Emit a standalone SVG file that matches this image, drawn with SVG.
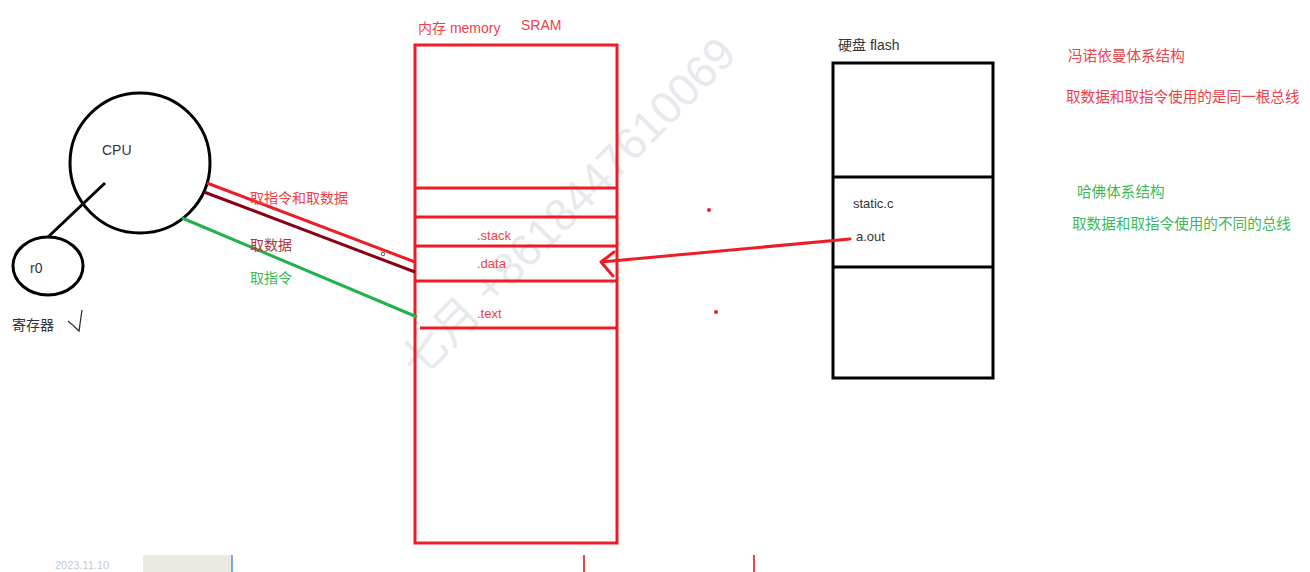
<svg xmlns="http://www.w3.org/2000/svg" width="1310" height="572" viewBox="0 0 1310 572">
<style>
text{font-family:"Liberation Sans","Noto Sans CJK SC",sans-serif;font-size:14px}
.blk{fill:none;stroke:#000;stroke-width:3}
.red{fill:none;stroke:#ee1d25;stroke-width:3}
.tr{fill:#f04048}
.tg{fill:#3cb85a}
.tk{fill:#333}
.wm{fill:#e6e9ee;font-size:45px}
.note{font-size:14.6px}
</style>
<rect width="1310" height="572" fill="#fff"/>
<text class="wm" transform="translate(420,380) rotate(-45.5)">七月 +8618447610069</text>
<g id="cpu">
<circle class="blk" cx="140" cy="163" r="70"/>
<text class="tk" x="102" y="155">CPU</text>
</g>
<g id="r0">
<ellipse class="blk" cx="48" cy="266" rx="35" ry="29"/>
<text class="tk" x="30" y="273">r0</text>
</g>
<g id="register-label">
<text class="tk" x="12" y="330">寄存器</text>
<path d="M68,321 Q74,326 79,331 L82,310" fill="none" stroke="#333" stroke-width="1.3"/>
</g>
<g id="memory">
<text class="tr" x="418" y="33">内存 memory</text>
<text class="tr" x="521" y="30">SRAM</text>
<rect class="red" x="415" y="45" width="202" height="498"/>
<path class="red" d="M415,188H617M415,217H617M415,246H617M415,281H617M420,328H617"/>
<text class="tr" x="477" y="240" style="font-size:13px">.stack</text>
<text class="tr" x="477" y="268" style="font-size:13px">.data</text>
<text class="tr" x="477" y="318" style="font-size:13px">.text</text>
</g>
<g id="flash">
<text class="tk" x="838" y="50">硬盘 flash</text>
<rect class="blk" x="833" y="63" width="160" height="315"/>
<path class="blk" d="M833,177H993M833,267H993"/>
<text class="tk" x="853" y="208" style="font-size:13px">static.c</text>
<text class="tk" x="856" y="241" style="font-size:13px">a.out</text>
</g>
<g id="notes">
<text class="tr note" x="1068" y="61">冯诺依曼体系结构</text>
<text class="tr note" x="1066" y="102">取数据和取指令使用的是同一根总线</text>
<text class="tg note" x="1077" y="197">哈佛体系结构</text>
<text class="tg note" x="1072" y="229">取数据和取指令使用的不同的总线</text>
</g>
<g id="connectors">
<path d="M48,237L105,183" class="blk"/>
<path d="M207,183L415,262" fill="none" stroke="#ee1d25" stroke-width="3"/>
<path d="M204,192L415,272" fill="none" stroke="#880015" stroke-width="3"/>
<path d="M182,218L417,317" fill="none" stroke="#22b14c" stroke-width="3"/>
<text x="250" y="203" class="tr">取指令和取数据</text>
<text x="250" y="250" fill="#a8343f">取数据</text>
<text x="250" y="283" class="tg">取指令</text>
<circle cx="383" cy="254" r="1.8" fill="none" stroke="#333" stroke-width="0.8"/>
<path d="M850,239L601,262M614,252L601,262L613,276" fill="none" stroke="#ee1d25" stroke-width="3" stroke-linecap="round" stroke-linejoin="round"/>
</g>
<g id="marks">
<circle cx="709" cy="210" r="2" fill="#ee1d25"/>
<circle cx="716" cy="312" r="2" fill="#ee1d25"/>
<text x="55" y="569" fill="#c4c9d4" style="font-size:11px">2023.11.10</text>
<rect x="143" y="555" width="89" height="17" fill="#ece9e3"/>
<path d="M232,555V572" stroke="#4a90d9" stroke-width="1.5"/>
<path d="M584,555V572M754,555V572" stroke="#f04048" stroke-width="2"/>
</g>
</svg>
